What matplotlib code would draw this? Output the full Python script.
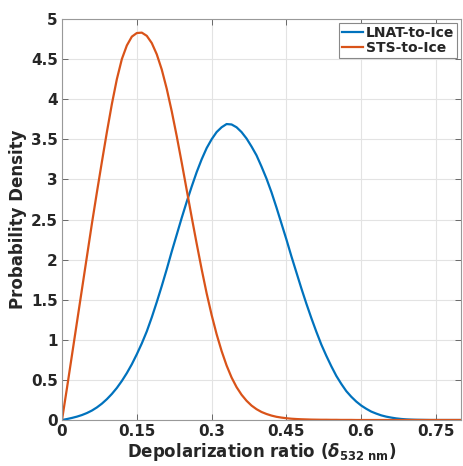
import matplotlib
matplotlib.use("Agg")
import matplotlib.pyplot as plt
import numpy as np

# depolarization ratio grid (step 0.01)
x = np.round(np.arange(0, 0.801, 0.01), 2)

lnat = [0.0, 0.012, 0.026, 0.042, 0.062, 0.087, 0.118, 0.157, 0.204, 0.26,
        0.325, 0.40, 0.487, 0.585, 0.695, 0.82, 0.955, 1.105, 1.28, 1.47,
        1.67, 1.88, 2.10, 2.31, 2.52, 2.72, 2.91, 3.09, 3.25, 3.39,
        3.50, 3.59, 3.65, 3.69, 3.685, 3.65, 3.59, 3.51, 3.41, 3.30,
        3.16, 3.01, 2.84, 2.65, 2.45, 2.25, 2.04, 1.84, 1.64, 1.45,
        1.27, 1.10, 0.94, 0.80, 0.67, 0.55, 0.45, 0.36, 0.29, 0.23,
        0.18, 0.14, 0.105, 0.08, 0.058, 0.042, 0.03, 0.02, 0.013, 0.008,
        0.005, 0.003, 0.002, 0.001, 0.0, 0.0, 0.0, 0.0, 0.0, 0.0, 0.0]

sts = [0.0, 0.40, 0.81, 1.22, 1.63, 2.04, 2.45, 2.84, 3.22, 3.59,
       3.94, 4.25, 4.50, 4.67, 4.78, 4.825, 4.83, 4.79, 4.70, 4.56,
       4.37, 4.13, 3.85, 3.54, 3.21, 2.87, 2.53, 2.20, 1.88, 1.58,
       1.31, 1.07, 0.86, 0.68, 0.53, 0.41, 0.315, 0.24, 0.18, 0.135,
       0.10, 0.075, 0.055, 0.04, 0.03, 0.022, 0.016, 0.012, 0.009, 0.007,
       0.005, 0.004, 0.003, 0.003, 0.002, 0.002, 0.001, 0.001, 0.001, 0.0,
       0.0, 0.0, 0.0, 0.0, 0.0, 0.0, 0.0, 0.0, 0.0, 0.0,
       0.0, 0.0, 0.0, 0.0, 0.0, 0.0, 0.0, 0.0, 0.0, 0.0, 0.0]

xticks = [0, 0.15, 0.3, 0.45, 0.6, 0.75]
xticklabels = ["0", "0.15", "0.3", "0.45", "0.6", "0.75"]
yticks = [0, 0.5, 1, 1.5, 2, 2.5, 3, 3.5, 4, 4.5, 5]
yticklabels = ["0", "0.5", "1", "1.5", "2", "2.5", "3", "3.5", "4", "4.5", "5"]

plt.rcParams["font.family"] = "DejaVu Sans"
plt.rcParams["font.weight"] = "bold"

fig = plt.figure(figsize=(4.63, 4.66), dpi=100)
ax = fig.add_axes([62 / 463, 1 - 420 / 466, 399 / 463, 401 / 466])

ax.plot(x, lnat, color="#0072BD", lw=1.6, label="LNAT-to-Ice")
ax.plot(x, sts, color="#D95319", lw=1.6, label="STS-to-Ice")

ax.set_xlim(0, 0.8)
ax.set_ylim(0, 5)
ax.set_xticks(xticks)
ax.set_xticklabels(xticklabels)
ax.set_yticks(yticks)
ax.set_yticklabels(yticklabels)
ax.tick_params(direction="in", top=True, right=True, length=4, width=0.6,
               color="#555555", labelsize=11, labelcolor="#262626", pad=3)
for lab in ax.get_xticklabels() + ax.get_yticklabels():
    lab.set_fontweight("bold")
for s in ax.spines.values():
    s.set_color("#999999")
    s.set_linewidth(0.8)
ax.grid(True, color="#e3e3e3", lw=0.8)
ax.set_axisbelow(True)

ax.set_xlabel(r"Depolarization ratio ($\delta_{\mathbf{532\ nm}}$)",
              fontsize=12, fontweight="bold", color="#262626", labelpad=1)
ax.set_ylabel("Probability Density", fontsize=12, fontweight="bold",
              color="#262626", labelpad=3)

leg = ax.legend(loc="upper right", fontsize=10, handlelength=1.5,
                handletextpad=0.2, borderpad=0.2, labelspacing=0.1,
                borderaxespad=0.3, fancybox=False, framealpha=1)
leg.get_frame().set_edgecolor("#888888")
leg.get_frame().set_linewidth(0.8)
for t in leg.get_texts():
    t.set_fontweight("bold")
    t.set_color("#262626")

fig.savefig("out.png", dpi=100)
